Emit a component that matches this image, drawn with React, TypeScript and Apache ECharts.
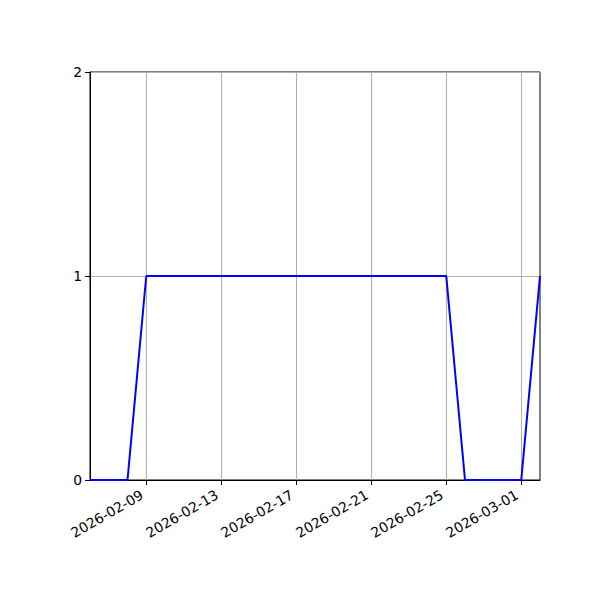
import React, { useEffect, useRef } from "react";
import * as echarts from "echarts";

const dates: string[] = [
  "2026-02-06", "2026-02-07", "2026-02-08", "2026-02-09", "2026-02-10", "2026-02-11",
  "2026-02-12", "2026-02-13", "2026-02-14", "2026-02-15", "2026-02-16", "2026-02-17",
  "2026-02-18", "2026-02-19", "2026-02-20", "2026-02-21", "2026-02-22", "2026-02-23",
  "2026-02-24", "2026-02-25", "2026-02-26", "2026-02-27", "2026-02-28", "2026-03-01",
  "2026-03-02",
];
const values: number[] = [
  0, 0, 0, 1, 1, 1, 1, 1, 1, 1, 1, 1, 1, 1, 1, 1, 1, 1, 1, 1, 0, 0, 0, 0, 1,
];
const xTickDates: string[] = [
  "2026-02-09", "2026-02-13", "2026-02-17", "2026-02-21", "2026-02-25", "2026-03-01",
];
const yTicks: number[] = [0, 1, 2];
const xStart = "2026-02-06";
const xEnd = "2026-03-02";

const DAY = 86400000;
const toMs = (s: string) => {
  const [y, m, d] = s.split("-").map(Number);
  return Date.UTC(y, m - 1, d);
};
const base = toMs(xStart);
const toIdx = (s: string) => Math.round((toMs(s) - base) / DAY);
const fmt = (v: number) => {
  const d = new Date(base + Math.round(v) * DAY);
  const p = (n: number) => String(n).padStart(2, "0");
  return `${d.getUTCFullYear()}-${p(d.getUTCMonth() + 1)}-${p(d.getUTCDate())}`;
};

export default function App() {
  const ref = useRef<HTMLDivElement>(null);
  useEffect(() => {
    if (!ref.current) return;
    const chart = echarts.init(ref.current, undefined, { renderer: "svg" });
    const tickIdx = xTickDates.map(toIdx);
    const font = "DejaVu Sans";
    chart.setOption({
      animation: false,
      backgroundColor: "#ffffff",
      grid: {
        left: 90,
        right: 60,
        top: 72,
        bottom: 120,
        show: true,
        borderColor: "#000000",
        borderWidth: 1,
        backgroundColor: "transparent",
      },
      xAxis: {
        type: "value",
        min: toIdx(xStart),
        max: toIdx(xEnd),
        axisLine: { show: true, onZero: false, lineStyle: { color: "#000", width: 1 } },
        axisTick: {
          show: true,
          length: 5,
          inside: false,
          customValues: tickIdx,
          lineStyle: { color: "#000", width: 1 },
        },
        axisLabel: {
          customValues: tickIdx,
          formatter: (v: number) => fmt(v),
          rotate: 30,
          fontSize: 13.9,
          fontFamily: font,
          color: "#000",
          margin: 11,
          padding: [0, 5, 0, 0],
        },
        splitLine: { show: true, lineStyle: { color: "#b0b0b0", width: 1.1 } },
      },
      yAxis: {
        type: "value",
        min: 0,
        max: 2,
        interval: 1,
        axisLine: { show: true, lineStyle: { color: "#000", width: 1 } },
        axisTick: {
          show: true,
          length: 5,
          customValues: yTicks,
          lineStyle: { color: "#000", width: 1 },
        },
        axisLabel: {
          customValues: yTicks,
          fontSize: 13.9,
          fontFamily: font,
          color: "#000",
          margin: 8,
        },
        splitLine: { show: true, lineStyle: { color: "#b0b0b0", width: 1.1 } },
      },
      series: [
        {
          type: "line",
          data: dates.map((d, i) => [toIdx(d), values[i]]),
          showSymbol: false,
          symbol: "none",
          lineStyle: { color: "#0000ff", width: 2 },
          itemStyle: { color: "#0000ff" },
          clip: true,
          z: 3,
        },
      ],
    });
    return () => chart.dispose();
  }, []);
  return (
    <div
      ref={ref}
      style={{ position: "fixed", left: 0, top: 0, width: 600, height: 600 }}
    />
  );
}
